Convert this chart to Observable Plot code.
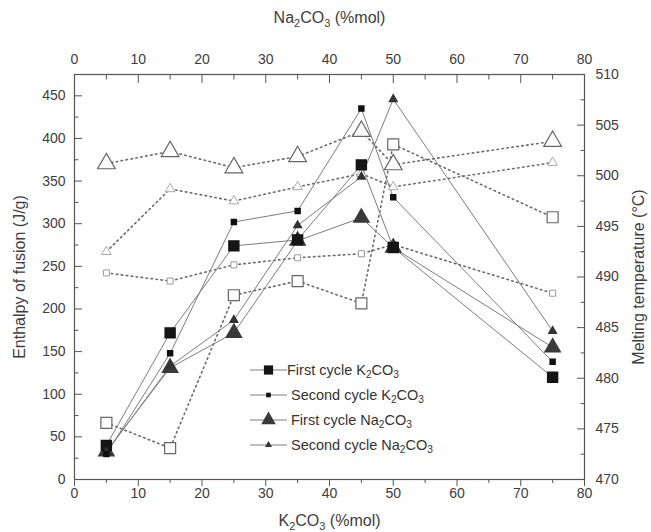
<!DOCTYPE html>
<html><head><meta charset="utf-8">
<script src="https://cdn.jsdelivr.net/npm/d3@7"></script>
<script src="https://cdn.jsdelivr.net/npm/@observablehq/plot@0.6"></script>
<style>
body{margin:0;background:#fff;font-family:"Liberation Sans",Arial,sans-serif;}
#wrap{position:relative;width:651px;height:532px;}
#legend{position:absolute;left:250px;top:357px;font-size:14.5px;color:#333;}
.li{display:flex;align-items:center;height:25px;white-space:nowrap;}
.li svg{flex:none;}
.li span{margin-left:4px;}
.li.first span{margin-left:0px;}
sub{font-size:70%;vertical-align:-3px;line-height:0;}
</style></head><body><div id="wrap"><div id="legend"></div></div>
<script>
// ---- data ----
const compositions = [5, 15, 25, 35, 45, 50, 75];
const enthalpyFirstK2CO3  = [40, 172, 274, 281, 369, 272, 120];
const enthalpySecondK2CO3 = [30, 148, 302, 315, 435, 331, 138];
const enthalpyFirstNa2CO3  = [33, 131, 172, 280, 307, 272, 155];
const enthalpySecondNa2CO3 = [32, 133, 187, 298, 355, 446, 174];
// melting temperatures (°C), right axis
const meltFirstK2CO3  = [475.6, 473.1, 488.2, 489.6, 487.4, 503.1, 495.9];
const meltSecondK2CO3 = [490.4, 489.6, 491.2, 491.9, 492.3, 493.2, 488.4];
const meltFirstNa2CO3  = [501.2, 502.4, 500.8, 501.9, 504.4, 501.1, 503.4];
const meltSecondNa2CO3 = [492.5, 498.7, 497.5, 498.9, 500.2, 498.9, 501.3];
const xTicks = [0, 10, 20, 30, 40, 50, 60, 70, 80];
const xMinorTicks = [5, 15, 25, 35, 45, 55, 65, 75];
const leftTicks = [0, 50, 100, 150, 200, 250, 300, 350, 400, 450];
const leftMinorTicks = [25, 75, 125, 175, 225, 275, 325, 375, 425];
const rightTicks = [470, 475, 480, 485, 490, 495, 500, 505, 510];
const rightMinorTicks = [472.5, 477.5, 482.5, 487.5, 492.5, 497.5, 502.5, 507.5];
const legendLabels = ["First cycle K<sub>2</sub>CO<sub>3</sub>", "Second cycle K<sub>2</sub>CO<sub>3</sub>",
                      "First cycle Na<sub>2</sub>CO<sub>3</sub>", "Second cycle Na<sub>2</sub>CO<sub>3</sub>"];

// ---- scales ----
const leftDomain = [0, 475];
const rightDomain = [470, 510];
const toL = d3.scaleLinear().domain(rightDomain).range(leftDomain);

const rows = (ys, conv) => compositions.map((x, i) => ({x, y: conv ? toL(ys[i]) : ys[i]}));

const solid = {x: "x", y: "y", stroke: "#7d7d7d", strokeWidth: 1};
const dotted = {x: "x", y: "y", stroke: "#6a6a6a", strokeWidth: 1.6, strokeDasharray: "1.5,3.5"};

const sFK = rows(enthalpyFirstK2CO3), sSK = rows(enthalpySecondK2CO3);
const sFN = rows(enthalpyFirstNa2CO3), sSN = rows(enthalpySecondNa2CO3);
const mFK = rows(meltFirstK2CO3, true), mSK = rows(meltSecondK2CO3, true);
const mFN = rows(meltFirstNa2CO3, true), mSN = rows(meltSecondNa2CO3, true);

const axC = "#555", txtC = "#3d3d3d";
const blank = () => "";

const chart = Plot.plot({
  width: 651, height: 532,
  marginLeft: 74, marginRight: 67, marginTop: 74, marginBottom: 53,
  style: {fontFamily: "'Liberation Sans', Arial, sans-serif", fontSize: "14px", color: txtC, background: "#fff"},
  x: {domain: [0, 80], axis: null},
  y: {domain: leftDomain, axis: null},
  marks: [
    // dotted melting-temperature lines
    Plot.line(mFK, dotted), Plot.line(mSK, dotted), Plot.line(mFN, dotted), Plot.line(mSN, dotted),
    // solid enthalpy lines
    Plot.line(sFK, solid), Plot.line(sSK, solid), Plot.line(sFN, solid), Plot.line(sSN, solid),
    // open markers
    Plot.dot(mSK, {x: "x", y: "y", symbol: "square", r: 3.4, fill: "#fff", stroke: "#9a9a9a", strokeWidth: 1}),
    Plot.dot(mFK, {x: "x", y: "y", symbol: "square", r: 6.2, fill: "#fff", stroke: "#666", strokeWidth: 1.2}),
    Plot.dot(mSN, {x: "x", y: "y", symbol: "triangle", r: 3.6, fill: "#fff", stroke: "#aaa", strokeWidth: 1}),
    Plot.dot(mFN, {x: "x", y: "y", symbol: "triangle", r: 6.6, fill: "#fff", stroke: "#666", strokeWidth: 1.2}),
    // filled markers
    Plot.dot(sFN, {x: "x", y: "y", symbol: "triangle", r: 5.6, fill: "#3a3a3a", stroke: "#3a3a3a"}),
    Plot.dot(sFK, {x: "x", y: "y", symbol: "square", r: 5.6, fill: "#151515", stroke: "#151515"}),
    Plot.dot(sSN, {x: "x", y: "y", symbol: "triangle", r: 2.8, fill: "#333", stroke: "#333"}),
    Plot.dot(sSK, {x: "x", y: "y", symbol: "square", r: 2.8, fill: "#111", stroke: "#111"}),
    // frame
    Plot.frame({stroke: axC, strokeWidth: 1.2}),
    // ticks (inward on left, right, top; outward on bottom)
    Plot.axisY(leftTicks, {anchor: "left", tickSize: -8, tickFormat: blank, stroke: axC, label: null}),
    Plot.axisY(leftMinorTicks, {anchor: "left", tickSize: -4.5, tickFormat: blank, stroke: axC, label: null}),
    Plot.axisY(rightTicks.map(toL), {anchor: "right", tickSize: -8, tickFormat: blank, stroke: axC, label: null}),
    Plot.axisY(rightMinorTicks.map(toL), {anchor: "right", tickSize: -4.5, tickFormat: blank, stroke: axC, label: null}),
    Plot.axisX(xTicks, {anchor: "top", tickSize: -8, tickFormat: blank, stroke: axC, label: null}),
    Plot.axisX(xMinorTicks, {anchor: "top", tickSize: -4.5, tickFormat: blank, stroke: axC, label: null}),
    Plot.axisX(xTicks, {anchor: "bottom", tickSize: 7, tickFormat: blank, stroke: axC, label: null}),
    Plot.axisX(xMinorTicks, {anchor: "bottom", tickSize: 4, tickFormat: blank, stroke: axC, label: null}),
    // tick labels + titles
    Plot.axisY(leftTicks, {anchor: "left", tickSize: 0, tickPadding: 9, fill: txtC,
      label: "Enthalpy of fusion (J/g)", labelAnchor: "center", labelOffset: 61, labelArrow: false}),
    Plot.axisY(rightTicks.map(toL), {anchor: "right", tickSize: 0, tickPadding: 11, fill: txtC,
      tickFormat: d => Math.round(toL.invert(d)),
      label: "Melting temperature (°C)", labelAnchor: "center", labelOffset: 59, labelArrow: false}),
    Plot.axisX(xTicks, {anchor: "top", tickSize: 0, tickPadding: 11, fill: txtC,
      label: "Na2CO3 (%mol)", labelAnchor: "center", labelOffset: 63, labelArrow: false}),
    Plot.axisX(xTicks, {anchor: "bottom", tickSize: 0, tickPadding: 9, fill: txtC,
      label: "K2CO3 (%mol)", labelAnchor: "center", labelOffset: 46, labelArrow: false})
  ]
});

// strip arrows, add subscripts, title sizing
d3.select(chart).selectAll('g[aria-label$="axis label"] text').each(function() {
  const t = this.textContent.replace(/\s*[↑↓→←]\s*/g, "").trim();
  this.setAttribute("font-size", "16");
  this.setAttribute("fill", txtC);
  const m = t.match(/^(Na|K)2CO3(.*)$/);
  if (m) {
    this.innerHTML = `${m[1]}<tspan dy="4" font-size="11">2</tspan><tspan dy="-4">CO</tspan><tspan dy="4" font-size="11">3</tspan><tspan dy="-4">${m[2]}</tspan>`;
  } else {
    this.textContent = t;
  }
});
document.getElementById("wrap").prepend(chart);

// legend
const legendSymbols = [
  {shape: "square", size: 5.2, fill: "#151515"},
  {shape: "square", size: 2.6, fill: "#111"},
  {shape: "triangle", size: 5.4, fill: "#3a3a3a"},
  {shape: "triangle", size: 2.6, fill: "#333"}
];
const lg = d3.select("#legend");
legendLabels.forEach((lab, i) => {
  const s = legendSymbols[i];
  const row = lg.append("div").attr("class", "li" + (i === 0 ? " first" : ""));
  const svg = row.append("svg").attr("width", 37).attr("height", 20);
  svg.append("line").attr("x1", 0).attr("x2", 37).attr("y1", 10).attr("y2", 10).attr("stroke", "#7d7d7d");
  const sym = s.shape === "square" ? d3.symbolSquare : d3.symbolTriangle;
  svg.append("path").attr("transform", "translate(18.5,10)")
    .attr("d", d3.symbol(sym, Math.PI * s.size * s.size)()).attr("fill", s.fill);
  row.append("span").html(lab);
});
</script>
</body></html>
